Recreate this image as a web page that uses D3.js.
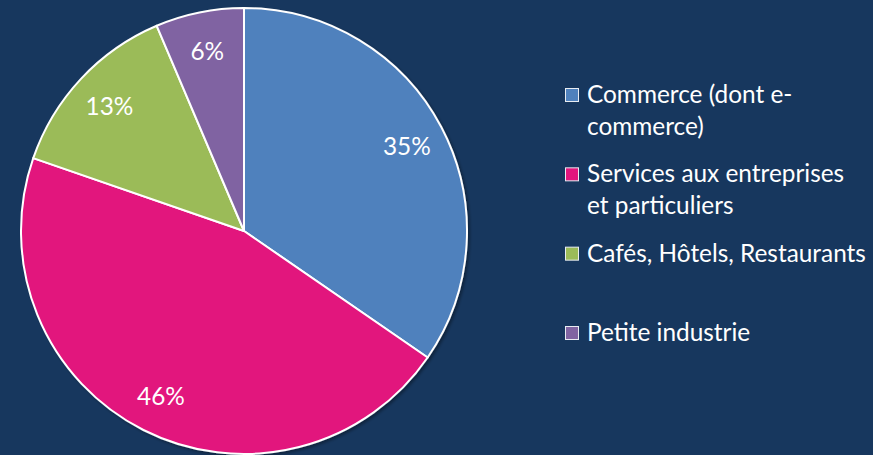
<!DOCTYPE html>
<html>
<head>
<meta charset="utf-8">
<script src="https://cdn.jsdelivr.net/npm/d3@7"></script>
<style>
  html, body { margin: 0; padding: 0; background: #17375E; }
  svg { display: block; }
</style>
</head>
<body>
<svg id="chart" width="873" height="455"></svg>
<script>
// chart data
const categories = [
  'Commerce (dont e-commerce)',
  'Services aux entreprises et particuliers',
  'Cafés, Hôtels, Restaurants',
  'Petite industrie'
]
const legendLines = [
  ['Commerce (dont e-', 'commerce)'],
  ['Services aux entreprises', 'et particuliers'],
  ['Cafés, Hôtels, Restaurants'],
  ['Petite industrie']
]
// shares, labels show them rounded
const shares = [34.6, 45.7, 13.3, 6.4]
const sliceColors = ['#4F81BD', '#E2157D', '#9BBB59', '#8064A2']

const cx = 244
const cy = 231
const radius = 223
const fontFamily = 'Lato, "Open Sans", sans-serif'

const svg = d3.select('#chart')

// pick a font size so the longest legend line is as wide as in the original
const probe = svg.append('text')
  .attr('font-family', fontFamily)
  .attr('font-size', 24)
  .text('Cafés, Hôtels, Restaurants')
const probeLen = probe.node().getComputedTextLength()
probe.remove()
const fontSize = 24 * 279 / probeLen

const defs = svg.append('defs')
defs.append('filter')
  .attr('id', 'shadow')
  .attr('x', '-10%').attr('y', '-10%')
  .attr('width', '120%').attr('height', '120%')
  .append('feDropShadow')
  .attr('dx', 2).attr('dy', 2)
  .attr('stdDeviation', 1.5)
  .attr('flood-color', '#000')
  .attr('flood-opacity', 0.35)

const color = d3.scaleOrdinal().domain(categories).range(sliceColors)

const pie = d3.pie().sort(null).value(d => d.value)
const arcs = pie(categories.map((c, i) => ({ name: c, value: shares[i] })))

const arc = d3.arc().innerRadius(0).outerRadius(radius)
const labelArc = d3.arc().innerRadius(radius * 0.825).outerRadius(radius * 0.825)

const g = svg.append('g').attr('transform', `translate(${cx},${cy})`)

g.append('g')
  .attr('filter', 'url(#shadow)')
  .selectAll('path')
  .data(arcs)
  .enter()
  .append('path')
  .attr('d', arc)
  .attr('fill', d => color(d.data.name))
  .attr('stroke', '#fff')
  .attr('stroke-width', 2)
  .attr('stroke-linejoin', 'round')

g.selectAll('text.pct')
  .data(arcs)
  .enter()
  .append('text')
  .attr('class', 'pct')
  .attr('transform', d => `translate(${labelArc.centroid(d)})`)
  .attr('text-anchor', 'middle')
  .attr('dominant-baseline', 'central')
  .attr('font-family', fontFamily)
  .attr('font-size', fontSize)
  .attr('fill', '#fff')
  .text(d => Math.round(d.data.value) + '%')

// legend
const legendY = d3.scalePoint()
  .domain(categories)
  .range([95, 333])

const lineHeight = 31.5
const legend = svg.append('g')
  .selectAll('g')
  .data(categories)
  .enter()
  .append('g')
  .attr('transform', d => `translate(565,${legendY(d)})`)

legend.append('rect')
  .attr('x', 0.5)
  .attr('y', -6.5)
  .attr('width', 13)
  .attr('height', 13)
  .attr('fill', d => color(d))
  .attr('stroke', '#E8ECF2')
  .attr('stroke-width', 1)

legend.append('text')
  .attr('x', 22)
  .attr('y', 8)
  .attr('font-family', fontFamily)
  .attr('font-size', fontSize)
  .attr('fill', '#fff')
  .selectAll('tspan')
  .data((d, i) => legendLines[i])
  .enter()
  .append('tspan')
  .attr('x', 22)
  .attr('dy', (d, i) => (i === 0 ? 0 : lineHeight))
  .text(d => d)
</script>
</body>
</html>
